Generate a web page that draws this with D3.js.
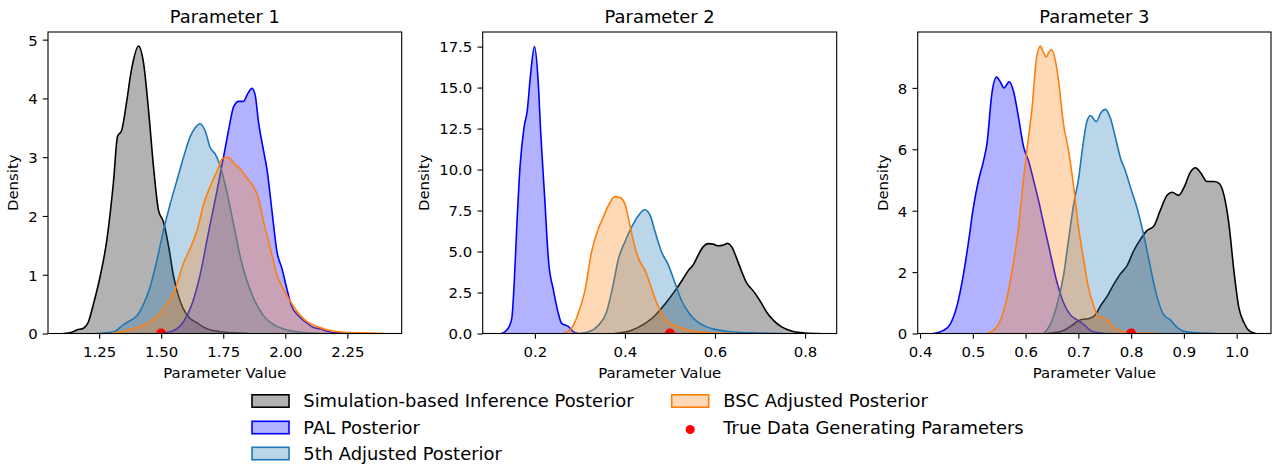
<!DOCTYPE html>
<html>
<head>
<meta charset="utf-8">
<script src="https://cdn.jsdelivr.net/npm/d3@7"></script>
<style>
  html, body { margin: 0; padding: 0; background: #fff; }
  svg { display: block; font-family: "DejaVu Sans", sans-serif; }
</style>
</head>
<body>
<svg id="chart" width="1274" height="468"></svg>
<script>
// ---------------- DATA ----------------
const seriesNames = ["Simulation-based Inference Posterior", "PAL Posterior", "5th Adjusted Posterior", "BSC Adjusted Posterior"];
const trueLabel = "True Data Generating Parameters";
const panelTitles = ["Parameter 1", "Parameter 2", "Parameter 3"];
const trueValues = [1.5, 0.5, 0.8];

// Parameter 1
const p1_sbi_x = [1.106,1.14,1.16,1.187,1.207,1.227,1.254,1.281,1.308,1.324,1.341,1.36,1.38,1.409,1.429,1.449,1.469,1.489,1.509,1.53,1.55,1.577,1.603,1.644,1.684,1.738,1.79,1.85];
const p1_sbi_y = [0,0.02,0.06,0.09,0.2,0.5,0.97,1.59,2.59,3.35,3.46,3.92,4.48,4.89,4.6,3.8,2.84,2.1,1.9,1.48,0.97,0.54,0.32,0.18,0.08,0.03,0.01,0];
const p1_pal_x = [1.496,1.55,1.59,1.624,1.657,1.69,1.724,1.751,1.771,1.792,1.812,1.832,1.845,1.866,1.879,1.892,1.913,1.926,1.946,1.966,1.987,2.007,2.027,2.054,2.08,2.114,2.14,2.175,2.22,2.3];
const p1_pal_y = [0,0.05,0.2,0.5,1.0,1.71,2.41,3.0,3.45,3.86,3.95,3.95,4.05,4.17,4.05,3.6,3.1,2.8,2.1,1.4,1.1,0.75,0.45,0.3,0.2,0.1,0.08,0.03,0.01,0];
const p1_adj5_x = [1.24,1.31,1.348,1.375,1.402,1.429,1.456,1.483,1.509,1.536,1.563,1.59,1.617,1.637,1.657,1.677,1.697,1.718,1.738,1.765,1.792,1.819,1.845,1.872,1.913,1.953,2.007,2.06,2.15];
const p1_adj5_y = [0,0.03,0.15,0.22,0.3,0.5,0.8,1.25,1.75,2.2,2.6,3.0,3.35,3.5,3.57,3.45,3.17,3.05,2.85,2.4,1.85,1.3,0.9,0.6,0.3,0.15,0.06,0.02,0];
const p1_bsc_x = [1.294,1.36,1.415,1.456,1.489,1.523,1.556,1.59,1.617,1.644,1.671,1.697,1.724,1.748,1.771,1.792,1.819,1.845,1.872,1.892,1.913,1.94,1.966,1.993,2.02,2.047,2.074,2.1,2.14,2.18,2.235,2.316,2.4];
const p1_bsc_y = [0,0.05,0.12,0.2,0.32,0.5,0.75,1.2,1.45,1.75,2.2,2.5,2.75,2.98,3.0,2.9,2.8,2.65,2.5,2.3,1.9,1.45,1.0,0.75,0.55,0.38,0.25,0.17,0.1,0.05,0.02,0.01,0];

// Parameter 2
const p2_sbi_x = [0.378,0.415,0.444,0.467,0.489,0.511,0.526,0.541,0.552,0.563,0.574,0.585,0.596,0.607,0.619,0.628,0.637,0.648,0.659,0.67,0.685,0.7,0.715,0.73,0.748,0.77,0.8,0.833];
const p2_sbi_y = [0,0.2,0.6,1.1,1.8,2.6,3.2,3.85,4.2,4.8,5.3,5.48,5.45,5.35,5.4,5.5,5.3,4.6,3.8,3.1,2.6,2.0,1.3,0.8,0.4,0.15,0.03,0];
const p2_pal_x = [0.126,0.137,0.144,0.149,0.154,0.159,0.167,0.176,0.183,0.19,0.199,0.207,0.213,0.222,0.23,0.241,0.252,0.259,0.274,0.285,0.296];
const p2_pal_y = [0,0.2,0.5,1.0,3.1,6.1,10.2,12.6,13.6,15.7,17.5,15.5,12.2,8.15,4.5,2.66,1.24,0.63,0.43,0.12,0];
const p2_adj5_x = [0.296,0.319,0.341,0.359,0.374,0.385,0.4,0.415,0.43,0.444,0.456,0.467,0.481,0.496,0.511,0.526,0.541,0.559,0.578,0.6,0.622,0.659,0.696,0.75];
const p2_adj5_y = [0,0.1,0.5,1.3,3.0,4.5,5.6,6.5,7.2,7.55,7.2,6.2,5.0,4.2,3.1,2.0,1.3,0.75,0.45,0.25,0.15,0.06,0.03,0];
const p2_bsc_x = [0.263,0.281,0.296,0.311,0.326,0.341,0.352,0.363,0.378,0.389,0.4,0.411,0.422,0.433,0.444,0.456,0.467,0.478,0.489,0.504,0.519,0.541,0.57,0.607,0.65];
const p2_bsc_y = [0,0.3,1.2,2.6,5.0,6.4,7.1,7.8,8.35,8.3,7.9,6.6,5.3,4.4,3.9,3.0,2.1,1.4,0.9,0.55,0.4,0.2,0.08,0.02,0];

// Parameter 3
const p3_sbi_x = [0.64,0.672,0.691,0.704,0.719,0.732,0.742,0.754,0.767,0.78,0.792,0.805,0.817,0.83,0.843,0.855,0.868,0.878,0.89,0.9,0.912,0.922,0.931,0.944,0.957,0.966,0.976,0.985,0.995,1.004,1.014,1.023,1.036];
const p3_sbi_y = [0,0.1,0.3,0.45,0.48,0.6,0.9,1.2,1.6,1.95,2.2,2.7,3.05,3.35,3.5,4.0,4.5,4.6,4.5,4.75,5.25,5.4,5.25,4.95,4.95,4.9,4.5,3.6,2.0,0.85,0.35,0.1,0];
const p3_pal_x = [0.425,0.444,0.457,0.47,0.482,0.492,0.501,0.511,0.52,0.527,0.536,0.545,0.552,0.559,0.569,0.577,0.587,0.596,0.606,0.615,0.625,0.634,0.647,0.659,0.672,0.685,0.697,0.71,0.723,0.735,0.75];
const p3_pal_y = [0,0.1,0.3,0.9,1.9,3.0,4.1,5.0,5.6,6.2,7.8,8.35,8.2,8.0,8.2,7.9,7.0,6.1,5.6,5.0,4.3,3.6,2.6,1.7,1.0,0.6,0.45,0.3,0.1,0.03,0];
const p3_adj5_x = [0.634,0.647,0.659,0.672,0.681,0.691,0.7,0.71,0.716,0.723,0.734,0.743,0.751,0.761,0.77,0.78,0.789,0.798,0.811,0.824,0.836,0.849,0.862,0.874,0.887,0.9,0.925,0.96];
const p3_adj5_y = [0,0.3,0.9,1.9,3.0,4.2,5.0,6.3,6.9,7.1,6.9,7.2,7.3,7.0,6.4,5.7,5.3,4.8,4.1,3.2,2.2,1.2,0.6,0.45,0.2,0.07,0.02,0];
const p3_bsc_x = [0.527,0.545,0.561,0.574,0.587,0.596,0.602,0.612,0.621,0.628,0.634,0.639,0.644,0.649,0.655,0.662,0.672,0.681,0.691,0.7,0.71,0.719,0.729,0.738,0.748,0.757,0.767,0.78,0.805,0.85];
const p3_bsc_y = [0,0.2,0.9,2.0,3.5,5.0,5.9,7.3,9.0,9.36,9.15,9.0,9.15,9.25,9.0,8.3,6.8,6.0,4.8,3.5,2.4,1.5,0.9,0.55,0.5,0.4,0.2,0.08,0.02,0];

// Axis limits and ticks
const p1_xlim = [1.044, 2.469], p1_ylim = [0, 5.13];
const p2_xlim = [0.084, 0.8704], p2_ylim = [0, 18.39];
const p3_xlim = [0.3956, 1.065], p3_ylim = [0, 9.82];
const p1_xticks = [1.25, 1.5, 1.75, 2.0, 2.25], p1_yticks = [0, 1, 2, 3, 4, 5];
const p2_xticks = [0.2, 0.4, 0.6, 0.8], p2_yticks = [0, 2.5, 5, 7.5, 10, 12.5, 15, 17.5];
const p3_xticks = [0.4, 0.5, 0.6, 0.7, 0.8, 0.9, 1.0], p3_yticks = [0, 2, 4, 6, 8];

// ---------------- STYLE ----------------
const lineColors = ["#000000", "#0000ff", "#1f77b4", "#ff7f0e"];
const fillOpacity = 0.3;

const panels = [
  { title: panelTitles[0], left: 48, right: 401.7, xlim: p1_xlim, ylim: p1_ylim, xticks: p1_xticks, yticks: p1_yticks, xfmt: d3.format(".2f"), yfmt: d3.format("d"),
    series: [[p1_sbi_x, p1_sbi_y], [p1_pal_x, p1_pal_y], [p1_adj5_x, p1_adj5_y], [p1_bsc_x, p1_bsc_y]], truth: trueValues[0] },
  { title: panelTitles[1], left: 482.7, right: 836.7, xlim: p2_xlim, ylim: p2_ylim, xticks: p2_xticks, yticks: p2_yticks, xfmt: d3.format(".1f"), yfmt: d3.format(".1f"),
    series: [[p2_sbi_x, p2_sbi_y], [p2_pal_x, p2_pal_y], [p2_adj5_x, p2_adj5_y], [p2_bsc_x, p2_bsc_y]], truth: trueValues[1] },
  { title: panelTitles[2], left: 917.7, right: 1271, xlim: p3_xlim, ylim: p3_ylim, xticks: p3_xticks, yticks: p3_yticks, xfmt: d3.format(".1f"), yfmt: d3.format("d"),
    series: [[p3_sbi_x, p3_sbi_y], [p3_pal_x, p3_pal_y], [p3_adj5_x, p3_adj5_y], [p3_bsc_x, p3_bsc_y]], truth: trueValues[2] }
];

const plotTop = 32, plotBottom = 333.5;
const tickFont = 14.9, titleFont = 17.9, legendFont = 17.9;
const tickLen = 5.2, tickPad = 5.2;
const svg = d3.select("#chart");

panels.forEach((p, i) => {
  const x = d3.scaleLinear().domain(p.xlim).range([p.left, p.right]);
  const y = d3.scaleLinear().domain(p.ylim).range([plotBottom, plotTop]);
  const clipId = "clip" + i;
  svg.append("clipPath").attr("id", clipId).append("rect")
    .attr("x", p.left).attr("y", plotTop).attr("width", p.right - p.left).attr("height", plotBottom - plotTop);

  const g = svg.append("g").attr("clip-path", `url(#${clipId})`);
  const area = d3.area().x(d => x(d[0])).y0(y(0)).y1(d => y(d[1])).curve(d3.curveMonotoneX);
  const line = d3.line().x(d => x(d[0])).y(d => y(d[1])).curve(d3.curveMonotoneX);

  p.series.forEach((s, k) => {
    const pts = s[0].map((xv, j) => [xv, s[1][j]]);
    g.append("path").datum(pts).attr("d", area)
      .attr("fill", lineColors[k]).attr("fill-opacity", fillOpacity).attr("stroke", "none");
    g.append("path").datum(pts).attr("d", line)
      .attr("fill", "none").attr("stroke", lineColors[k]).attr("stroke-width", 1.6)
      .attr("stroke-linejoin", "round");
  });

  g.append("circle").attr("cx", x(p.truth)).attr("cy", y(0)).attr("r", 5).attr("fill", "#ff0000");

  // axes
  const xAxis = d3.axisBottom(x).tickValues(p.xticks).tickFormat(p.xfmt).tickSizeOuter(0).tickSize(tickLen).tickPadding(tickPad);
  const yAxis = d3.axisLeft(y).tickValues(p.yticks).tickFormat(p.yfmt).tickSizeOuter(0).tickSize(tickLen).tickPadding(tickPad);
  const gx = svg.append("g").attr("transform", `translate(0,${plotBottom})`).call(xAxis);
  const gy = svg.append("g").attr("transform", `translate(${p.left},0)`).call(yAxis);
  [gx, gy].forEach(a => {
    a.select(".domain").remove();
    a.selectAll("text").attr("font-size", tickFont).attr("fill", "#000").attr("font-family", "DejaVu Sans");
    a.selectAll("line").attr("stroke", "#000").attr("stroke-width", 1.1);
  });
  gx.selectAll("text").attr("dy", null).attr("y", 356.7 - plotBottom);
  gy.selectAll("text").attr("dy", "0.36em");

  svg.append("rect").attr("x", p.left).attr("y", plotTop).attr("width", p.right - p.left).attr("height", plotBottom - plotTop)
    .attr("fill", "none").attr("stroke", "#000").attr("stroke-width", 1.1);

  svg.append("text").attr("x", (p.left + p.right) / 2).attr("y", 23).attr("text-anchor", "middle")
    .attr("font-size", titleFont).text(p.title);
  svg.append("text").attr("x", (p.left + p.right) / 2).attr("y", 377.5).attr("text-anchor", "middle")
    .attr("font-size", tickFont).text("Parameter Value");
  // y label positioned left of the widest tick label
  const maxW = d3.max(gy.selectAll("text").nodes(), n => n.getComputedTextLength());
  const lx = p.left - tickLen - tickPad - maxW - 10;
  svg.append("text").attr("transform", `translate(${lx},${(plotTop + plotBottom) / 2}) rotate(-90)`)
    .attr("text-anchor", "middle").attr("font-size", tickFont).text("Density");
});

// ---------------- LEGEND ----------------
const legendCols = [
  { patchX: 252, textX: 303.3, items: [0, 1, 2] },
  { patchX: 671.7, textX: 723.3, items: [3, 4] }
];
const rowY = [401, 427.5, 453.5];
const leg = svg.append("g");
legendCols.forEach(col => {
  col.items.forEach((it, r) => {
    const cy = rowY[r];
    if (it < 4) {
      leg.append("rect").attr("x", col.patchX).attr("y", cy - 6.2).attr("width", 37).attr("height", 12.4)
        .attr("fill", d3.interpolateRgb("#ffffff", lineColors[it])(fillOpacity))
        .attr("stroke", lineColors[it]).attr("stroke-width", 1.6);
      leg.append("text").attr("x", col.textX).attr("y", cy + 6.4).attr("font-size", legendFont).text(seriesNames[it]);
    } else {
      leg.append("circle").attr("cx", col.patchX + 18.5).attr("cy", cy + 2).attr("r", 4.5).attr("fill", "#ff0000");
      leg.append("text").attr("x", col.textX).attr("y", cy + 6.4).attr("font-size", legendFont).text(trueLabel);
    }
  });
});
</script>
</body>
</html>
